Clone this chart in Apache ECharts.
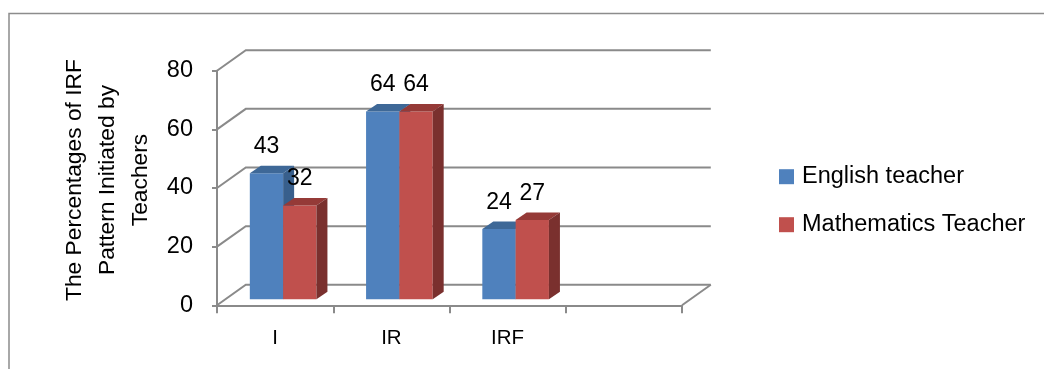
<!DOCTYPE html>
<html>
<head>
<meta charset="utf-8">
<script src="https://cdn.jsdelivr.net/npm/echarts@6/dist/echarts.min.js"></script>
<style>
html,body{margin:0;padding:0;background:#fff;}
#chart{width:1044px;height:369px;}
</style>
</head>
<body>
<div id="chart"></div>
<script>
// ---- data ----
const categories = ['I', 'IR', 'IRF', ''];
const seriesNames = ['English teacher', 'Mathematics Teacher'];
const englishValues = [43, 64, 24];
const mathValues = [32, 64, 27];
const yTicks = [0, 20, 40, 60, 80];
const yTitle = 'The Percentages of IRF\nPattern Initiated by\nTeachers';

// ---- styles ----
const FONT = "'Liberation Sans', Arial, sans-serif";
const GRID_COLOR = '#8a8a8a';
const WALL_DX = 28.8, WALL_DY = -20.5;   // back wall offset
const PLANE_DX = 8, PLANE_DY = -6;       // bar plane offset
const BAR_DX = 11, BAR_DY = -7.5;        // bar depth
const BAR_FRAC = 0.2865;
const COLORS = [
  {front: '#4F81BD', top: '#3E6897', side: '#385F8C'},
  {front: '#C0504D', top: '#953A37', side: '#7A302E'}
];

function barRenderer(slot) {
  const c = COLORS[slot];
  return function (params, api) {
    const idx = api.value(0), val = api.value(1);
    const base = api.coord([idx, 0]);
    const top = api.coord([idx, val]);
    const band = api.size([1, 0])[0];
    const w = band * BAR_FRAC;
    const x0 = base[0] + PLANE_DX + (slot === 0 ? -w : 0);
    const yb = base[1] + PLANE_DY, yt = top[1] + PLANE_DY;
    return {
      type: 'group',
      children: [
        {type: 'rect', shape: {x: x0, y: yt, width: w, height: yb - yt}, style: {fill: c.front}},
        {type: 'polygon', shape: {points: [[x0, yt], [x0 + BAR_DX, yt + BAR_DY], [x0 + w + BAR_DX, yt + BAR_DY], [x0 + w, yt]]}, style: {fill: c.top}},
        {type: 'polygon', shape: {points: [[x0 + w, yt], [x0 + w + BAR_DX, yt + BAR_DY], [x0 + w + BAR_DX, yb + BAR_DY], [x0 + w, yb]]}, style: {fill: c.side}},
        {type: 'text', z2: 10, style: {x: x0 + w / 2, y: yt - 26.5, text: String(val), font: '23px ' + FONT, fill: '#000', align: 'center', verticalAlign: 'middle'}}
      ]
    };
  };
}

function wallRenderer(params, api) {
  const v = api.value(1);
  const cs = params.coordSys;
  const y = api.coord([0, v])[1];
  const xl = cs.x, xr = cs.x + cs.width;
  const children = [
    {type: 'polyline', shape: {points: [[xl, y], [xl + WALL_DX, y + WALL_DY], [xr + WALL_DX, y + WALL_DY]]},
     style: {stroke: GRID_COLOR, lineWidth: 2, fill: null}}
  ];
  if (v === yTicks[0]) {
    children.push({type: 'line', shape: {x1: xr, y1: y, x2: xr + WALL_DX, y2: y + WALL_DY},
      style: {stroke: GRID_COLOR, lineWidth: 2}});
  }
  return {type: 'group', children: children};
}

const chart = echarts.init(document.getElementById('chart'), null, {renderer: 'canvas'});
chart.setOption({
  backgroundColor: '#fff',
  animation: false,
  grid: {left: 217, right: 362, top: 70.7, bottom: 63.7, containLabel: false},
  legend: {
    orient: 'vertical', left: 774, top: 159.7,
    itemWidth: 15, itemHeight: 15, itemGap: 24,
    data: seriesNames.map(n => ({name: n, icon: 'rect'})),
    textStyle: {fontFamily: FONT, fontSize: 23.5, color: '#000', lineHeight: 24, padding: [0, 0, 0, 3]}
  },
  graphic: [
    {type: 'rect', silent: true, shape: {x: 9, y: 13.5, width: 1100, height: 400},
     style: {fill: 'none', stroke: '#8c8c8c', lineWidth: 1.5}},
    {type: 'text', x: 107.6, y: 180, rotation: Math.PI / 2,
     style: {text: yTitle, font: '22.8px ' + FONT, fill: '#000', align: 'center', verticalAlign: 'middle', lineHeight: 32.7}}
  ],
  xAxis: {
    type: 'category', data: categories, boundaryGap: true,
    axisLine: {show: true, lineStyle: {color: GRID_COLOR, width: 2}},
    axisTick: {show: true, length: 8, interval: 0, lineStyle: {color: GRID_COLOR, width: 2}},
    axisLabel: {interval: 0, margin: 23, fontFamily: FONT, fontSize: 20.5, color: '#000'},
    splitLine: {show: false}
  },
  yAxis: {
    type: 'value', min: yTicks[0], max: yTicks[yTicks.length - 1], interval: yTicks[1] - yTicks[0],
    axisLine: {show: true, lineStyle: {color: GRID_COLOR, width: 2}},
    axisTick: {show: true, length: 5, lineStyle: {color: GRID_COLOR, width: 2}},
    axisLabel: {margin: 24, fontFamily: FONT, fontSize: 23.5, color: '#000', padding: [8, 0, 0, 0]},
    splitLine: {show: false}
  },
  series: [
    {type: 'custom', name: '_wall', z: 1, clip: false, silent: true,
     renderItem: wallRenderer, data: yTicks.map(v => [0, v])},
    {type: 'custom', name: seriesNames[0], z: 3, clip: false,
     itemStyle: {color: COLORS[0].front},
     renderItem: barRenderer(0), data: englishValues.map((v, i) => [i, v])},
    {type: 'custom', name: seriesNames[1], z: 3, clip: false,
     itemStyle: {color: COLORS[1].front},
     renderItem: barRenderer(1), data: mathValues.map((v, i) => [i, v])}
  ]
});
</script>
</body>
</html>
